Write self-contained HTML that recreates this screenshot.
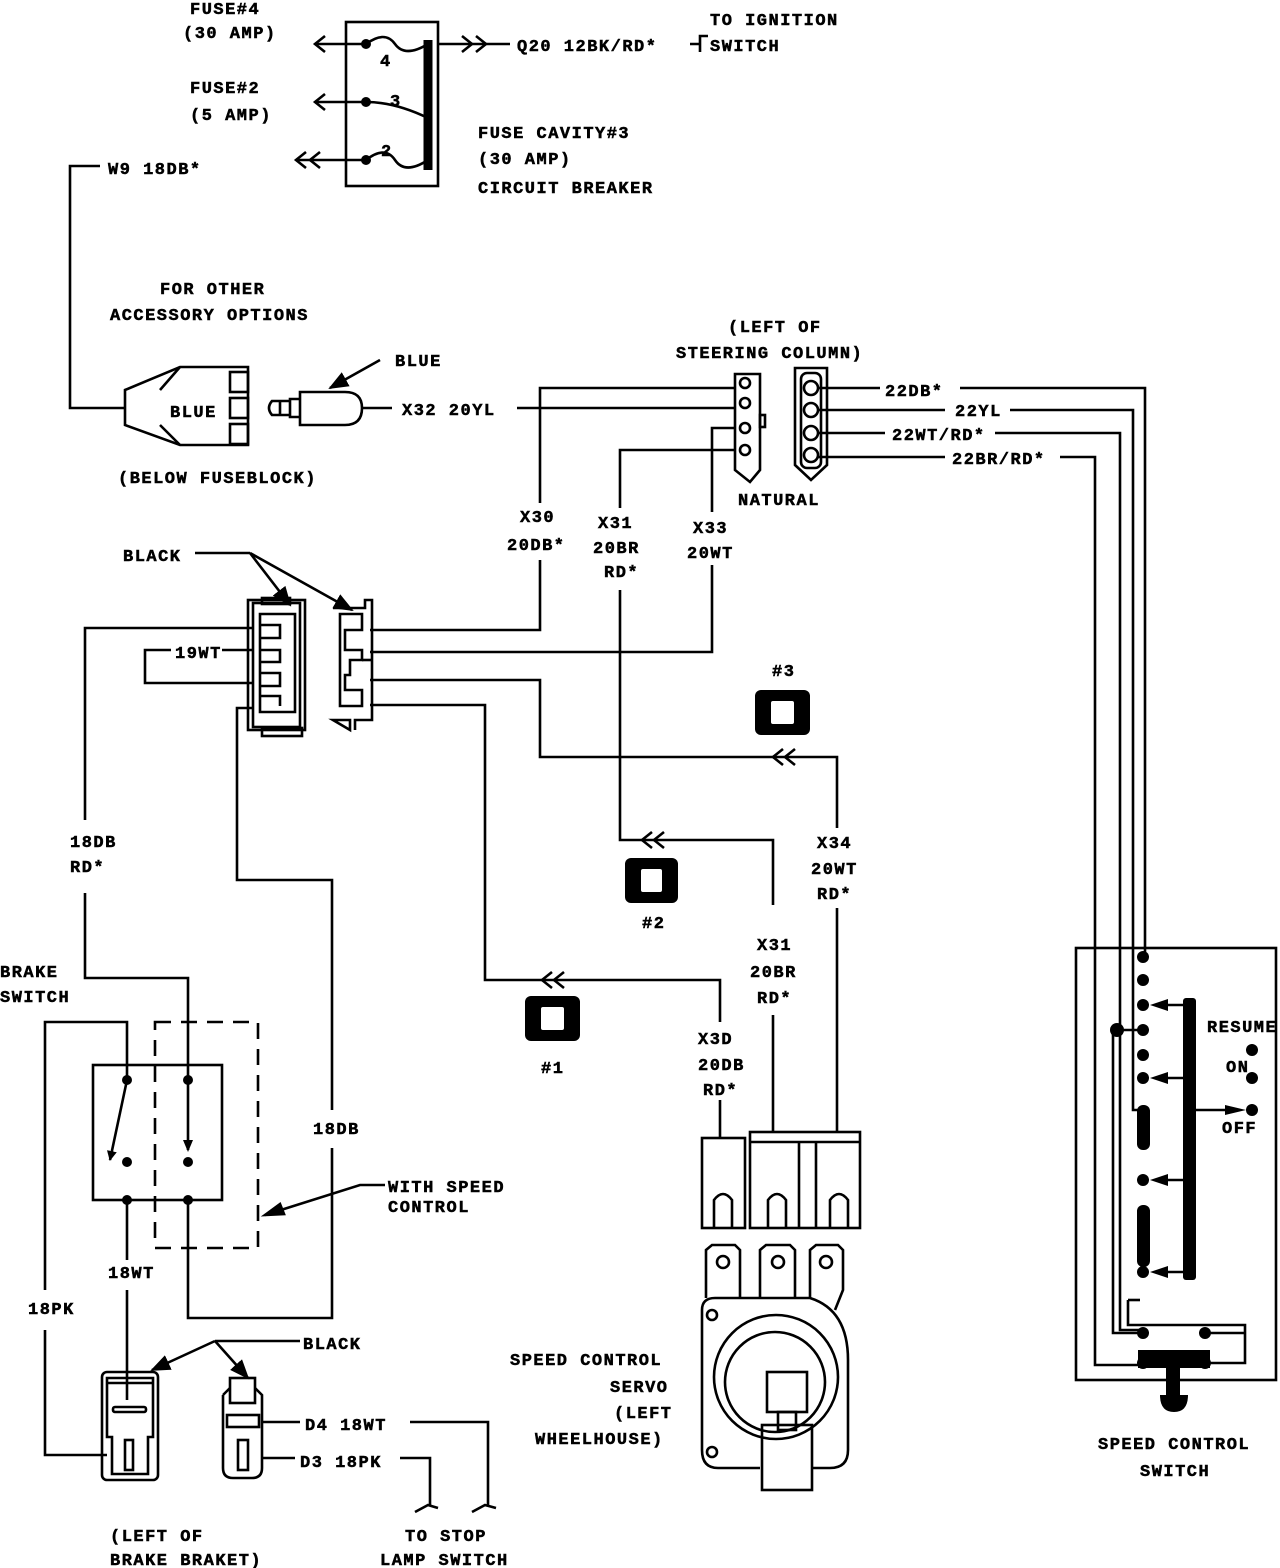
<!DOCTYPE html>
<html><head><meta charset="utf-8"><style>
html,body{margin:0;padding:0;background:#fff;}
svg{display:block}
text{font-family:"Liberation Mono",monospace;font-weight:bold;font-size:17px;fill:#000;letter-spacing:1.5px;stroke:#000;stroke-width:0.5px}
</style></head><body>
<svg width="1280" height="1568" viewBox="0 0 1280 1568" xmlns="http://www.w3.org/2000/svg">
<defs>
<marker id="ah" markerWidth="10" markerHeight="10" refX="9" refY="5" orient="auto" markerUnits="userSpaceOnUse"><path d="M0,0 L10,5 L0,10 z" fill="#000"/></marker>
<marker id="ahb" markerWidth="20" markerHeight="16" refX="18" refY="8" orient="auto" markerUnits="userSpaceOnUse"><path d="M0,0 L20,8 L0,16 z" fill="#000"/></marker>
</defs>
<g fill="none" stroke="#000" stroke-width="2.6">
<rect x="346" y="22" width="92" height="164"/>
<line x1="428" y1="40" x2="428" y2="170" stroke-width="9"/>
<path d="M366,44 Q385,30 395,44 T428,44"/>
<path d="M366,102 Q395,102 428,118"/>
<path d="M366,160 Q385,145 395,160 T428,160"/>
<line x1="315" y1="44" x2="366" y2="44"/><path d="M325,36 L315,44 L325,52"/>
<line x1="315" y1="102" x2="366" y2="102"/><path d="M325,94 L315,102 L325,110"/>
<line x1="438" y1="44" x2="510" y2="44"/><path d="M462,36 L472,44 L462,52 M476,36 L486,44 L476,52"/>
<path d="M690,44 L700,44 L700,52 M700,44 L700,36 L708,36"/>
<line x1="296" y1="160" x2="366" y2="160"/><path d="M306,152 L296,160 L306,168 M320,152 L310,160 L320,168"/>
<polyline points="100,166 70,166 70,408 125,408"/>
<path d="M125,390 L180,367 L248,367 L248,445 L180,445 L125,425 Z"/>
<path d="M160,390 L180,367 M160,425 L180,445"/>
<rect x="230" y="372" width="18" height="20"/><rect x="230" y="398" width="18" height="20"/><rect x="230" y="424" width="18" height="20"/>
<path d="M300,392 L345,392 Q362,392 362,408 Q362,425 345,425 L300,425 Z"/>
<path d="M300,399 L290,399 L290,417 L300,417 M290,401 L272,401 Q266,408 272,415 L290,415 M280,401 L280,415"/>
<line x1="362" y1="408" x2="392" y2="408"/>
<line x1="380" y1="360" x2="330" y2="388" marker-end="url(#ahb)"/>
<line x1="517" y1="408" x2="735" y2="408"/>
<path d="M735,374 L760,374 L760,470 L750,482 L735,470 Z"/>
<circle cx="745" cy="383" r="5"/><circle cx="745" cy="403" r="5"/><circle cx="745" cy="428" r="5"/><circle cx="745" cy="450" r="5"/>
<rect x="760" y="415" width="5" height="12"/>
<path d="M795,368 L827,368 L827,465 L811,480 L795,465 Z"/>
<rect x="801" y="373" width="20" height="95" rx="6"/>
<circle cx="811" cy="388" r="7"/><circle cx="811" cy="410" r="7"/><circle cx="811" cy="433" r="7"/><circle cx="811" cy="455" r="7"/>
<line x1="818" y1="388" x2="880" y2="388"/>
<polyline points="960,388 1145,388 1145,955"/>
<line x1="818" y1="410" x2="945" y2="410"/>
<polyline points="1010,410 1133,410 1133,1110 1143,1110"/>
<line x1="818" y1="433" x2="885" y2="433"/>
<polyline points="995,433 1120,433 1120,1330 1143,1330"/>
<line x1="818" y1="457" x2="945" y2="457"/>
<polyline points="1060,457 1095,457 1095,1365 1143,1365"/>
<polyline points="735,388 540,388 540,503"/>
<polyline points="540,560 540,630 370,630"/>
<polyline points="735,450 620,450 620,508"/>
<polyline points="620,590 620,840 773,840 773,905"/>
<path d="M652,832 L642,840 L652,848 M664,832 L654,840 L664,848"/>
<line x1="773" y1="1015" x2="773" y2="1132"/>
<polyline points="735,428 712,428 712,512"/>
<polyline points="712,565 712,652 370,652"/>
<polyline points="370,680 540,680 540,757 837,757 837,828"/>
<path d="M783,749 L773,757 L783,765 M795,749 L785,757 L795,765"/>
<line x1="837" y1="908" x2="837" y2="1132"/>
<polyline points="370,705 485,705 485,980 720,980 720,1022"/>
<path d="M552,972 L542,980 L552,988 M564,972 L554,980 L564,988"/>
<line x1="720" y1="1100" x2="720" y2="1138"/>
<line x1="195" y1="553" x2="250" y2="553"/>
<line x1="250" y1="553" x2="290" y2="605" marker-end="url(#ahb)"/>
<line x1="250" y1="553" x2="352" y2="610" marker-end="url(#ahb)"/>
<rect x="248" y="600" width="57" height="130"/>
<rect x="253" y="603" width="47" height="124"/>
<rect x="262" y="728" width="40" height="8"/>
<rect x="262" y="598" width="28" height="6"/>
<path d="M260,614 L295,614 L295,712 L260,712 Z"/>
<path d="M260,625 L280,625 L280,638 L260,638 M260,650 L280,650 L280,662 L260,662 M260,673 L280,673 L280,686 L260,686 M260,696 L280,696 L280,706"/>
<path d="M333,608 L365,608 L365,600 L372,600 L372,720 L355,720 L355,730 M350,730 L350,720 L333,720 Z"/>
<path d="M340,614 L362,614 L362,630 L345,630 L345,650 L362,650 L362,660 L350,660 L350,675 L345,675 L345,690 L362,690 L362,706 L340,706 Z"/>
<line x1="362" y1="660" x2="372" y2="660"/>
<polyline points="253,628 85,628 85,820"/>
<polyline points="85,893 85,978 188,978 188,1150"/>
<polyline points="171,650 145,650 145,683 253,683"/>
<line x1="222" y1="650" x2="253" y2="650"/>
<polyline points="253,708 237,708 237,880 332,880 332,1110"/>
<polyline points="332,1148 332,1318 188,1318 188,1200"/>
<rect x="93" y="1065" width="129" height="135"/>
<rect x="155" y="1022" width="103" height="226" stroke-dasharray="16,10"/>
<polyline points="45,1290 45,1022 127,1022 127,1080"/>
<polyline points="45,1330 45,1455 107,1455"/>
<line x1="127" y1="1080" x2="110" y2="1160" marker-end="url(#ah)"/>
<line x1="127" y1="1200" x2="127" y2="1260"/>
<line x1="127" y1="1290" x2="127" y2="1400"/>
<polyline points="385,1185 360,1185 265,1215" />
<path d="M265,1215 L280,1204 L284,1214 Z" fill="#000"/>
<line x1="300" y1="1341" x2="215" y2="1341"/>
<line x1="215" y1="1341" x2="152" y2="1370" marker-end="url(#ahb)"/>
<line x1="215" y1="1341" x2="248" y2="1378" marker-end="url(#ahb)"/>
<rect x="102" y="1372" width="56" height="108" rx="5"/>
<path d="M107,1378 L153,1378 L153,1437 L148,1437 L148,1474 L112,1474 L112,1437 L107,1437 Z"/>
<line x1="107" y1="1383" x2="153" y2="1383"/>
<rect x="113" y="1407" width="33" height="5" rx="2"/>
<rect x="125" y="1440" width="8" height="30"/>
<path d="M223,1395 L223,1468 Q223,1478 233,1478 L252,1478 Q262,1478 262,1468 L262,1395 L255,1388 M230,1388 L223,1395"/>
<rect x="230" y="1378" width="25" height="25"/>
<rect x="227" y="1415" width="32" height="12"/>
<rect x="238" y="1440" width="10" height="30"/>
<line x1="262" y1="1422" x2="300" y2="1422"/>
<polyline points="410,1422 488,1422 488,1505"/>
<line x1="262" y1="1458" x2="295" y2="1458"/>
<polyline points="400,1458 430,1458 430,1505"/>
<path d="M415,1512 L428,1505 L438,1508 M472,1512 L485,1505 L496,1508"/>
<rect x="702" y="1138" width="43" height="90"/>
<rect x="750" y="1132" width="110" height="96"/>
<line x1="750" y1="1142" x2="860" y2="1142"/>
<line x1="799" y1="1142" x2="799" y2="1228"/><line x1="816" y1="1142" x2="816" y2="1228"/>
<path d="M714,1228 L714,1200 Q723,1188 732,1200 L732,1228"/>
<path d="M768,1228 L768,1200 Q777,1188 786,1200 L786,1228"/>
<path d="M830,1228 L830,1200 Q839,1188 848,1200 L848,1228"/>
<path d="M706,1298 L706,1250 L712,1245 L735,1245 L740,1250 L740,1298"/>
<path d="M760,1298 L760,1250 L766,1245 L790,1245 L795,1250 L795,1298"/>
<path d="M810,1298 L810,1250 L816,1245 L838,1245 L843,1250 L843,1290 L835,1310"/>
<circle cx="723" cy="1262" r="6"/><circle cx="778" cy="1262" r="6"/><circle cx="826" cy="1262" r="6"/>
<path d="M715,1298 L810,1298 Q848,1310 848,1360 L848,1450 Q848,1468 830,1468 L812,1468 M760,1468 L718,1468 Q702,1468 702,1450 L702,1310 Q702,1298 715,1298"/>
<circle cx="776" cy="1377" r="62"/>
<circle cx="775" cy="1382" r="50"/>
<circle cx="712" cy="1315" r="5"/><circle cx="712" cy="1452" r="5"/>
<rect x="767" y="1372" width="40" height="40"/>
<rect x="778" y="1412" width="18" height="18"/>
<rect x="762" y="1425" width="50" height="65"/>
</g>
<g fill="#000">
<circle cx="366" cy="44" r="5"/><circle cx="366" cy="102" r="5"/><circle cx="366" cy="160" r="5"/>
<circle cx="127" cy="1080" r="5"/><circle cx="127" cy="1162" r="5"/><circle cx="127" cy="1200" r="5"/>
<circle cx="188" cy="1080" r="5"/><circle cx="188" cy="1162" r="5"/><circle cx="188" cy="1200" r="5"/>
<path d="M183,1140 L193,1140 L188,1152 Z"/>
<rect x="755" y="690" width="55" height="45" rx="6"/>
<rect x="625" y="858" width="53" height="45" rx="6"/>
<rect x="525" y="996" width="55" height="45" rx="6"/>
</g>
<g fill="#fff" stroke="#000" stroke-width="2">
<rect x="770" y="700" width="25" height="25" rx="3"/>
<rect x="640" y="868" width="23" height="25" rx="3"/>
<rect x="540" y="1006" width="25" height="25" rx="3"/>
</g>
<g fill="none" stroke="#000" stroke-width="2.6">
<rect x="1076" y="948" width="200" height="432"/>
<polyline points="1113,1030 1113,1333 1140,1333"/>
<polyline points="1128,1300 1128,1325 1245,1325 1245,1363 1210,1363"/>
<line x1="1210" y1="1333" x2="1245" y2="1333"/>
<line x1="1190" y1="1110" x2="1240" y2="1110"/>
<line x1="1113" y1="1030" x2="1143" y2="1030"/>
<line x1="1160" y1="1005" x2="1190" y2="1005"/>
<line x1="1160" y1="1078" x2="1190" y2="1078"/>
<line x1="1160" y1="1180" x2="1190" y2="1180"/>
<line x1="1160" y1="1272" x2="1190" y2="1272"/>
<line x1="1128" y1="1300" x2="1140" y2="1300"/>
</g>
<g fill="#000">
<circle cx="1143" cy="957" r="6"/><circle cx="1143" cy="980" r="6"/><circle cx="1143" cy="1005" r="6"/>
<circle cx="1117" cy="1030" r="7"/><circle cx="1143" cy="1030" r="6"/><circle cx="1143" cy="1055" r="6"/><circle cx="1143" cy="1078" r="6"/>
<circle cx="1143" cy="1180" r="6"/><circle cx="1143" cy="1272" r="6"/>
<circle cx="1143" cy="1333" r="6"/><circle cx="1205" cy="1333" r="6"/>
<circle cx="1143" cy="1363" r="6"/><circle cx="1205" cy="1363" r="6"/>
<circle cx="1252" cy="1050" r="6"/><circle cx="1252" cy="1078" r="6"/><circle cx="1252" cy="1110" r="6"/>
<rect x="1183" y="998" width="13" height="282" rx="3"/>
<rect x="1137" y="1105" width="13" height="45" rx="6"/>
<rect x="1137" y="1205" width="13" height="62" rx="6"/>
<path d="M1150,1005 L1168,999 L1168,1011 Z"/><path d="M1150,1078 L1168,1072 L1168,1084 Z"/>
<path d="M1150,1180 L1168,1174 L1168,1186 Z"/><path d="M1150,1272 L1168,1266 L1168,1278 Z"/>
<path d="M1225,1105 L1246,1110 L1225,1115 Z"/>
<rect x="1138" y="1350" width="72" height="18"/>
<rect x="1166" y="1365" width="14" height="30"/>
<path d="M1160,1395 L1188,1395 Q1188,1412 1174,1412 Q1160,1412 1160,1395 Z"/>
</g>
<text x="190" y="14">FUSE#4</text>
<text x="183" y="38">(30 AMP)</text>
<text x="190" y="93">FUSE#2</text>
<text x="190" y="120">(5 AMP)</text>
<text x="380" y="66" font-size="14">4</text>
<text x="390" y="106" font-size="14">3</text>
<text x="381" y="156" font-size="14">2</text>
<text x="517" y="51">Q20 12BK/RD*</text>
<text x="710" y="25">TO IGNITION</text>
<text x="710" y="51">SWITCH</text>
<text x="478" y="138">FUSE CAVITY#3</text>
<text x="478" y="164">(30 AMP)</text>
<text x="478" y="193">CIRCUIT BREAKER</text>
<text x="108" y="174">W9 18DB*</text>
<text x="160" y="294">FOR OTHER</text>
<text x="110" y="320">ACCESSORY OPTIONS</text>
<text x="170" y="417">BLUE</text>
<text x="118" y="483">(BELOW FUSEBLOCK)</text>
<text x="395" y="366">BLUE</text>
<text x="402" y="415">X32 20YL</text>
<text x="728" y="332">(LEFT OF</text>
<text x="676" y="358">STEERING COLUMN)</text>
<text x="738" y="505">NATURAL</text>
<text x="885" y="396">22DB*</text>
<text x="955" y="416">22YL</text>
<text x="892" y="440">22WT/RD*</text>
<text x="952" y="464">22BR/RD*</text>
<text x="520" y="522">X30</text>
<text x="507" y="550">20DB*</text>
<text x="598" y="528">X31</text>
<text x="593" y="553">20BR</text>
<text x="604" y="577">RD*</text>
<text x="693" y="533">X33</text>
<text x="687" y="558">20WT</text>
<text x="123" y="561">BLACK</text>
<text x="175" y="658">19WT</text>
<text x="772" y="676">#3</text>
<text x="642" y="928">#2</text>
<text x="541" y="1073">#1</text>
<text x="817" y="848">X34</text>
<text x="811" y="874">20WT</text>
<text x="817" y="899">RD*</text>
<text x="757" y="950">X31</text>
<text x="750" y="977">20BR</text>
<text x="757" y="1003">RD*</text>
<text x="698" y="1044">X3D</text>
<text x="698" y="1070">20DB</text>
<text x="703" y="1095">RD*</text>
<text x="70" y="847">18DB</text>
<text x="70" y="872">RD*</text>
<text x="0" y="977">BRAKE</text>
<text x="0" y="1002">SWITCH</text>
<text x="313" y="1134">18DB</text>
<text x="388" y="1192">WITH SPEED</text>
<text x="388" y="1212">CONTROL</text>
<text x="108" y="1278">18WT</text>
<text x="28" y="1314">18PK</text>
<text x="303" y="1349">BLACK</text>
<text x="305" y="1430">D4 18WT</text>
<text x="300" y="1467">D3 18PK</text>
<text x="110" y="1541">(LEFT OF</text>
<text x="110" y="1565">BRAKE BRAKET)</text>
<text x="405" y="1541">TO STOP</text>
<text x="380" y="1565">LAMP SWITCH</text>
<text x="510" y="1365">SPEED CONTROL</text>
<text x="610" y="1392">SERVO</text>
<text x="614" y="1418">(LEFT</text>
<text x="535" y="1444">WHEELHOUSE)</text>
<text x="1207" y="1032">RESUME</text>
<text x="1226" y="1072">ON</text>
<text x="1222" y="1133">OFF</text>
<text x="1098" y="1449">SPEED CONTROL</text>
<text x="1140" y="1476">SWITCH</text>
</svg>
</body></html>
